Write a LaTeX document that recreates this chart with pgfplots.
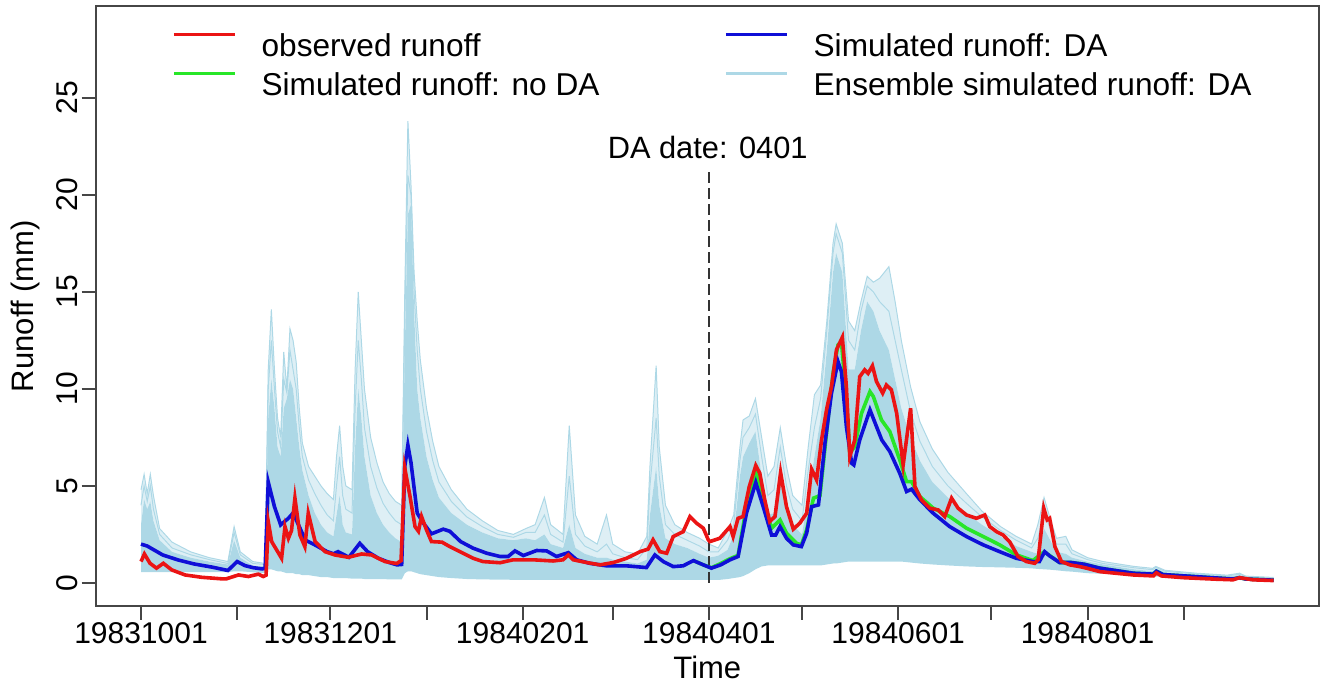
\documentclass[border=0pt]{standalone}
\usepackage{fontspec}
\setmainfont{Liberation Sans}
\usepackage{pgfplots}
\usepackage{pgfplotstable}
\pgfplotsset{compat=1.18}
\usepgfplotslibrary{fillbetween}

\definecolor{obsred}{RGB}{235,20,20}
\definecolor{dablue}{RGB}{15,15,215}
\definecolor{nodagreen}{RGB}{40,230,40}
\definecolor{enslb}{HTML}{ADD8E6}
\definecolor{axgray}{RGB}{70,70,70}

% ensemble: lower bound, dense upper bound, a middle member, outer member
\pgfplotstableread{
d lo de mid mx
0 0.55 3.0 4.0 4.8
1 0.55 4.3 5.0 5.6
2 0.55 3.8 4.2 4.6
3 0.55 4.2 5.0 5.6
4 0.55 3.2 3.8 4.5
6 0.55 2.2 2.5 2.8
10 0.55 1.6 1.8 2.1
16 0.55 1.3 1.45 1.6
22 0.55 1.1 1.2 1.3
28 0.55 0.95 1.0 1.1
30 0.6 2.2 2.6 2.9
32 0.6 1.3 1.45 1.6
36 0.55 0.9 1.0 1.1
40 0.5 0.85 0.95 1.0
41 0.7 8.5 10 11
42 0.7 10.5 12.5 14.1
43 0.65 9.0 10 11
44 0.6 7.0 7.8 8.5
45 0.6 6.5 7.0 7.5
46 0.55 9.0 10.5 11.9
47 0.5 9.5 9.8 10.0
48 0.5 10.5 12.0 13.1
49 0.5 10.0 11.0 12.5
50 0.45 8.5 10.0 11.4
51 0.45 7.0 8.0 9.0
52 0.4 5.8 6.5 7.2
54 0.4 4.5 5.3 6.0
56 0.35 3.6 4.6 5.5
58 0.3 3.0 4.0 5.0
60 0.3 2.6 3.5 4.6
62 0.25 2.4 3.2 4.3
63 0.25 3.5 5.0 6.5
64 0.25 4.5 6.5 8.1
65 0.25 3.0 4.5 6.0
66 0.25 2.6 3.8 5.0
68 0.22 2.5 3.6 4.8
69 0.22 7.0 9.0 11
70 0.22 10.0 12.5 15.0
71 0.22 8.5 10.5 12.5
72 0.2 6.5 8.0 10
74 0.2 4.5 6.0 7.5
76 0.2 3.6 4.9 6.2
78 0.2 3.0 4.1 5.2
80 0.18 2.6 3.6 4.6
82 0.18 2.3 3.2 4.2
84 0.18 2.1 3.0 4.0
85 0.5 12 13.5 15
86 0.6 19 21 23.8
87 0.6 19.5 20 20.5
88 0.55 14 15 16
89 0.5 10 12 13.5
90 0.45 8.5 10 11.5
92 0.4 6.5 7.8 9
94 0.35 5.3 6.3 7.3
96 0.3 4.4 5.2 6.0
100 0.25 3.6 4.2 4.8
105 0.2 3.0 3.4 3.8
110 0.18 2.6 2.9 3.2
115 0.17 2.3 2.5 2.7
120 0.16 2.2 2.35 2.5
124 0.16 2.3 2.6 2.8
127 0.16 2.2 2.6 3.0
130 0.15 2.5 3.5 4.4
132 0.15 2.0 2.5 3.0
136 0.15 1.8 2.1 2.5
138 0.15 3.0 5.5 8.1
140 0.15 1.8 2.5 3.5
143 0.15 1.5 1.9 2.4
147 0.15 1.3 1.6 2.0
150 0.15 1.3 2.0 3.5
152 0.15 1.2 1.5 2.0
156 0.15 1.1 1.3 1.6
160 0.15 1.0 1.2 1.5
163 0.15 1.2 1.8 2.4
164 0.15 3.5 5.0 6.0
166 0.15 6.0 8.5 11.2
167 0.15 4.0 5.5 7.0
169 0.15 2.3 3.0 4.0
172 0.15 2.0 2.5 3.0
176 0.15 1.8 2.2 2.6
180 0.15 1.5 1.9 2.3
183 0.15 1.3 1.6 2.0
186 0.15 1.4 1.6 1.8
189 0.2 1.7 2.2 2.7
191 0.25 2.5 3.0 3.5
193 0.3 5.5 6.3 7.0
194 0.35 6.5 7.5 8.4
196 0.5 7.2 8.0 8.6
198 0.7 7.8 8.7 9.5
200 0.85 5.5 6.5 7.5
202 0.9 3.5 4.5 5.5
204 0.9 3.6 4.8 6.0
206 0.9 5.8 7.0 8.0
208 0.9 4.2 5.0 6.0
210 0.9 3.0 3.8 4.5
213 0.9 2.5 3.2 4.0
215 0.9 4.5 5.8 7.0
217 0.9 6.5 8.0 9.7
219 0.9 8.5 9.5 10.2
221 0.95 12 13 13.5
223 1.0 16 17 17.5
224 1.0 17 18 18.5
226 1.05 16 17 17.5
228 1.1 11 12.5 13.5
230 1.1 11 12 13
232 1.1 13 14 14.5
234 1.1 14.5 15.3 15.8
236 1.1 14 15 15.5
238 1.1 13 14.5 15.7
241 1.1 12 14 16.3
243 1.1 10.5 12.5 14.5
245 1.1 9 11 12.5
248 1.05 7.5 8.8 10.1
251 1.0 6.3 7.3 8.3
255 0.95 5.2 6.0 6.9
260 0.9 4.4 5.0 5.7
266 0.85 3.6 4.1 4.6
271 0.82 3.0 3.4 3.7
277 0.8 2.4 2.7 2.9
282 0.78 1.9 2.2 2.4
287 0.75 1.6 1.8 2.0
289 0.72 1.5 2.3 3.0
291 0.7 2.8 3.6 4.4
293 0.68 2.2 2.8 3.3
295 0.65 1.6 2.0 2.3
298 0.6 1.5 2.0 2.4
300 0.58 1.3 1.5 1.7
305 0.5 1.1 1.2 1.3
310 0.47 0.95 1.0 1.1
320 0.38 0.7 0.78 0.85
326 0.33 0.6 0.68 0.75
327 0.33 0.75 0.8 0.85
330 0.3 0.55 0.6 0.65
340 0.22 0.42 0.46 0.5
350 0.17 0.33 0.36 0.4
354 0.15 0.4 0.45 0.5
356 0.14 0.3 0.32 0.35
365 0.12 0.22 0.25 0.28
}\ens

\pgfplotstableread{
d v
0 1.10
1.1 1.49
2.9 1.01
5 0.76
7.2 1.01
9.9 0.67
14.2 0.41
19.5 0.29
26 0.21
27.5 0.21
31.4 0.41
34.6 0.33
37.8 0.45
39.4 0.33
40.3 0.40
41 3.16
42.1 2.13
43.7 1.70
45.3 1.27
46.4 2.90
47.5 2.30
48.5 2.70
49.6 4.37
51.2 2.47
52.8 1.87
53.9 3.59
56.1 2.13
59.3 1.61
62.5 1.44
66.8 1.32
71.1 1.49
74.3 1.44
78.6 1.10
82.4 1.00
83.8 1.15
85 5.91
86.7 4.45
88.3 2.90
89.4 2.66
90.4 3.42
92 2.73
93.6 2.13
97 2.10
99.5 1.87
102.8 1.61
107 1.27
110.2 1.10
115.7 1.04
119.9 1.19
126.4 1.19
132.8 1.13
136 1.19
137.7 1.44
139.3 1.19
143.6 1.05
147.9 0.93
152.2 1.05
156.5 1.27
160.8 1.61
163.4 1.74
165 2.22
167.2 1.61
169.4 1.53
171.5 2.39
174.7 2.64
176.9 3.42
179 3.08
181.2 2.82
182.8 2.22
183.3 2.13
186.5 2.30
189.8 2.90
190.8 2.39
192.4 3.33
194 3.42
196 4.96
198.1 6.05
199.4 5.65
201 4.28
202.6 3.16
204.3 3.42
206.1 5.69
208 3.93
210.2 2.77
212.3 3.08
214.5 3.59
216.1 5.86
217.7 5.31
219.3 7.37
220.9 8.92
222.5 10.12
224.1 12.01
226 12.66
227.3 10.12
228.4 6.51
230 7.37
231.6 10.63
233.2 10.98
234.3 10.80
235.7 11.19
237 10.38
239 9.78
240.2 10.20
241.8 9.95
243.5 8.75
245.6 6.08
248 9.00
249.4 4.96
251.5 4.28
254.2 3.85
256.9 3.76
259 3.42
261.2 4.37
263.3 3.85
266 3.50
269.2 3.33
271.9 3.50
273.5 2.90
275.7 2.64
277.8 2.47
280 2.10
282.6 1.36
285.3 1.10
288 1.01
289.1 1.20
290.9 3.85
292 3.25
292.8 3.33
294.5 1.87
296.6 1.10
299.3 0.93
302.5 0.84
304.7 0.76
309 0.58
319.7 0.41
326.2 0.36
327.2 0.52
328.8 0.36
335.8 0.27
346.5 0.19
351.9 0.16
354 0.27
358.3 0.16
365 0.12
}\obs

\pgfplotstableread{
d v
0 2.00
2 1.90
7 1.44
12 1.18
17 0.98
23 0.81
28 0.64
31 1.10
33.5 0.89
36 0.79
39 0.72
40 0.75
41 5.20
43 3.93
45 2.99
47.5 3.33
49 3.60
51 2.90
53 2.20
56 1.96
60 1.61
62 1.50
63.5 1.61
67 1.32
70.5 2.04
73 1.61
76.5 1.27
80 1.05
82.5 0.93
84 0.95
85 6.00
86 7.10
87 6.20
89 3.60
91 3.08
93.6 2.53
97.4 2.77
99.5 2.66
103 2.13
107 1.79
111.4 1.53
115.7 1.36
118.3 1.36
120.5 1.65
123.2 1.41
127.5 1.67
130.7 1.65
133.9 1.36
137.7 1.56
140.4 1.19
144.6 1.01
150 0.88
156.4 0.88
162.9 0.79
165.6 1.44
168.3 1.10
171.5 0.84
174.7 0.88
178 1.15
181.2 0.93
183.8 0.76
186.8 0.93
189.8 1.19
192.4 1.36
195.1 3.59
198.1 5.17
200.5 3.93
203.2 2.47
204.5 2.47
205.9 2.90
208 2.30
210.2 1.96
212.8 1.87
214.5 2.56
216.1 3.93
218.3 4.02
220.4 7.20
222.5 9.78
224.6 11.41
225.7 10.89
227.3 8.06
229 6.17
229.7 6.08
231.6 7.37
234.9 8.92
237 8.06
238.7 7.37
241.3 6.77
244.5 5.65
246.7 4.71
248.3 4.83
251 4.28
255.3 3.59
260.6 2.90
266 2.39
271.4 1.96
276.7 1.61
282 1.27
287.4 1.10
289.5 1.10
291.2 1.61
292.8 1.39
296 1.05
299.8 1.05
304 0.96
309 0.76
319.7 0.50
326.2 0.45
327.2 0.60
329.3 0.43
341.2 0.31
351.9 0.20
354 0.27
356 0.20
365 0.14
}\da

\pgfplotstableread{
d v
178 1.15
181.2 0.93
183.8 0.78
186.8 1.00
189.8 1.25
192.4 1.42
195.1 3.93
198.1 5.82
200.5 4.20
203.2 2.82
205.9 3.25
208 2.56
211.3 2.04
212.8 1.96
214.5 2.73
216.7 4.37
218.8 4.50
220.9 7.72
223 10.81
224.6 12.27
225.7 12.44
227.3 9.43
228.4 6.69
230 7.03
232.2 8.75
234.9 9.86
236 9.60
238.6 8.40
241.3 7.80
244.5 6.34
246.7 5.22
248.3 5.22
251 4.45
255.3 3.85
260.6 3.42
266 2.82
271.4 2.39
276.7 1.96
282 1.45
287.4 1.15
291 1.60
293 1.39
296 1.05
299.8 1.05
304 0.96
309 0.76
319.7 0.50
326.2 0.45
327.2 0.60
329.3 0.43
341.2 0.31
351.9 0.20
354 0.27
356 0.20
365 0.14
}\noda

\begin{document}
\begin{tikzpicture}
\begin{axis}[
  at={(0pt,0pt)}, anchor=south west,
  scale only axis, width=611.65pt, height=299.75pt,
  xmin=-14.6, xmax=379.6, ymin=-1.19, ymax=29.71,
  axis line style={axgray, line width=1pt},
  xtick={0,31,61,92,123,152,183,213,244,274,305,336},
  xticklabels={19831001,,19831201,,19840201,,19840401,,19840601,,19840801,},
  ytick={0,5,10,15,20,25},
  minor tick num=0,
  tick align=outside, tick pos=left,
  major tick length=7pt,
  every tick/.style={axgray, line width=1pt},
  /pgf/number format/assume math mode=true,
  tick label style={font=\fontsize{15}{18}\selectfont},
  xticklabel style={anchor=north, inner sep=0pt, yshift=-1pt},
  yticklabel style={xshift=-2pt, rotate=90, anchor=south, inner sep=0pt},
  xlabel={Time}, ylabel={Runoff (mm)},
  label style={font=\fontsize{15.5}{18}\selectfont},
  xlabel style={at={(axis description cs:0.5,-0.1018)}, anchor=center},
  ylabel style={at={(axis description cs:-0.0578,0.5)}, anchor=center},
  legend columns=2,
  legend cell align=left,
  legend image code/.code={\draw[#1] (0pt,5.5pt) -- (30.5pt,5.5pt);},
  legend style={draw=none, fill=none, inner sep=0pt, outer sep=0pt,
    at={(0.0624,0.9563)}, anchor=north west,
    font=\fontsize{15.8}{18}\selectfont,
    row sep=7.5pt,
    nodes={inner sep=0pt, text height=11.3pt, text depth=0pt},
    /tikz/every odd column/.append style={column sep=12.5pt},
    /tikz/every even column/.append style={column sep=62.3pt}},
]
\addlegendimage{obsred, line width=1.8pt}
\addlegendentry{observed runoff}
\addlegendimage{dablue, line width=1.8pt}
\addlegendentry{Simulated runoff: DA}
\addlegendimage{nodagreen, line width=1.8pt}
\addlegendentry{Simulated runoff: no DA}
\addlegendimage{enslb, line width=1.6pt}
\addlegendentry{Ensemble simulated runoff: DA}

\addplot[draw=none, name path=lo, forget plot] table[x=d, y=lo] {\ens};
\addplot[draw=none, name path=de, forget plot] table[x=d, y=de] {\ens};
\addplot[draw=none, name path=mx, forget plot] table[x=d, y=mx] {\ens};
\addplot[enslb, forget plot] fill between[of=lo and de];
\addplot[enslb, fill opacity=0.4, forget plot] fill between[of=de and mx];
\addplot[enslb, line width=0.5pt, forget plot] table[x=d, y=mid] {\ens};
\addplot[enslb, line width=0.5pt, forget plot] table[x=d, y=mx] {\ens};

\addplot[black!80, line width=1pt, dash pattern=on 5.5pt off 2.5pt, forget plot] coordinates {(183,0) (183,21.2)};

\addplot[nodagreen, line width=1.8pt, forget plot] table[x=d, y=v] {\noda};
\addplot[dablue, line width=1.8pt, forget plot] table[x=d, y=v] {\da};
\addplot[obsred, line width=1.8pt, forget plot] table[x=d, y=v] {\obs};

\node[font=\fontsize{15.4}{18}\selectfont, anchor=center] at (axis cs:182.6,22.42) {DA date: 0401};
\end{axis}
\pgfresetboundingbox
\path[use as bounding box] (-47.85pt,-41pt) rectangle (613.65pt,303pt);
\end{tikzpicture}
\end{document}
